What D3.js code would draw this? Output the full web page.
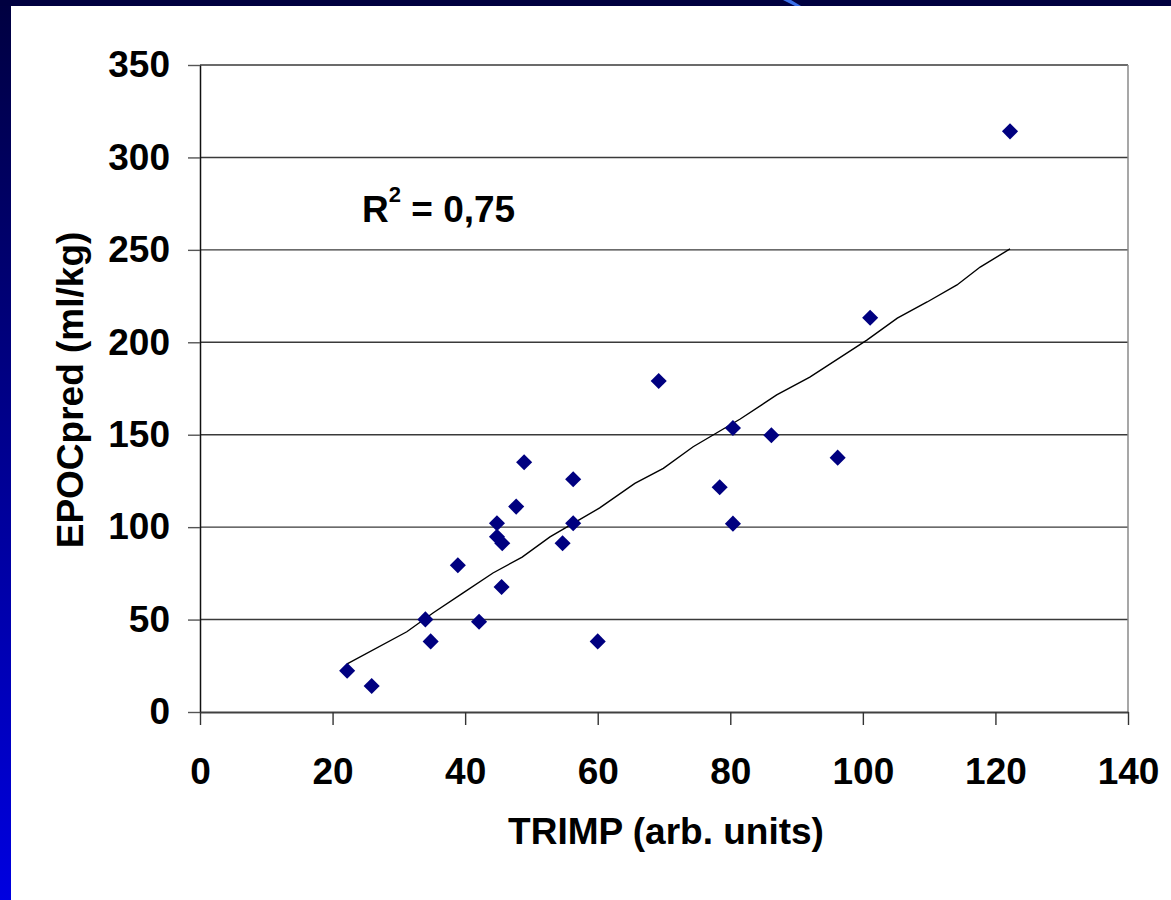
<!DOCTYPE html>
<html>
<head>
<meta charset="utf-8">
<script src="https://cdn.jsdelivr.net/npm/d3@7"></script>
<style>
  body { margin: 0; background: #fff; }
  svg { display: block; }
</style>
</head>
<body>
<div id="chart"></div>
<script>
// TRIMP vs EPOCpred scatter with trendline
var trimp = [22.2, 25.9, 34.0, 34.8, 38.9, 42.1, 44.8, 44.8, 45.6, 45.5, 47.7, 48.9,
             54.7, 56.3, 56.3, 60.0, 69.2, 78.4, 80.4, 80.4, 86.2, 96.2, 101.1, 122.2];
var epoc  = [22.3, 14.1, 50.1, 38.2, 79.4, 48.8, 94.8, 102.1, 91.3, 67.6, 111.1, 135.1,
             91.3, 125.9, 102.1, 38.2, 179.1, 121.6, 153.6, 101.9, 149.7, 137.6, 213.3, 314.1];

// trendline as drawn
var trendX = [22.2, 31.2, 35.2, 39.7, 44.2, 48.6, 52.8, 60.3, 65.6, 69.9, 74.4, 81.5,
              87.0, 92.0, 100.6, 105.2, 109.7, 114.2, 117.7, 122.2];
var trendY = [26.0, 43.4, 53.7, 64.4, 75.2, 83.8, 94.7, 110.4, 123.7, 131.8, 143.5, 158.5,
              171.5, 181.2, 201.2, 213.1, 221.8, 231.0, 240.7, 250.5];

var xTicks = [0, 20, 40, 60, 80, 100, 120, 140];
var yTicks = [0, 50, 100, 150, 200, 250, 300, 350];

var W = 1171, H = 900;
var pLeft = 200, pRight = 1128, pTop = 65, pBottom = 712;
var font = "'Liberation Sans', Arial, sans-serif";

var svg = d3.select("#chart")
  .append("svg")
  .attr("width", W)
  .attr("height", H);

// slide frame: dark band on top, gradient band on the left
var defs = svg.append("defs");
var grad = defs.append("linearGradient")
  .attr("id", "leftband")
  .attr("x1", 0).attr("y1", 0).attr("x2", 0).attr("y2", 1);
grad.append("stop").attr("offset", "0%").attr("stop-color", "#000040");
grad.append("stop").attr("offset", "100%").attr("stop-color", "#0000e0");

svg.append("rect")
  .attr("x", 0).attr("y", 0)
  .attr("width", 11).attr("height", H)
  .attr("fill", "url(#leftband)");
svg.append("rect")
  .attr("x", 0).attr("y", 0)
  .attr("width", W).attr("height", 6)
  .attr("fill", "#000040");
svg.append("polygon")
  .attr("points", "783,0 791,0 801,6 795,6")
  .attr("fill", "#3a6ee8");

var x = d3.scaleLinear().domain([0, 140]).range([pLeft, pRight]);
var y = d3.scaleLinear().domain([0, 350]).range([pBottom, pTop]);

// gridlines
svg.append("g")
  .selectAll("line")
  .data(yTicks.filter(function(d) { return d > 0; }))
  .enter()
  .append("line")
    .attr("x1", pLeft)
    .attr("x2", pRight)
    .attr("y1", function(d) { return y(d); })
    .attr("y2", function(d) { return y(d); })
    .attr("stroke", "#3a3a3a")
    .attr("stroke-width", 1.4);

// right border
svg.append("line")
  .attr("x1", pRight).attr("x2", pRight)
  .attr("y1", pTop).attr("y2", pBottom)
  .attr("stroke", "#8a8a8a")
  .attr("stroke-width", 1.5);

// axes
var yAxis = svg.append("g")
  .attr("transform", "translate(" + pLeft + ",0)")
  .call(d3.axisLeft(y).tickValues(yTicks).tickSize(12).tickPadding(18).tickSizeOuter(0));
var xAxis = svg.append("g")
  .attr("transform", "translate(0," + pBottom + ")")
  .call(d3.axisBottom(x).tickValues(xTicks).tickSize(13).tickPadding(33).tickSizeOuter(0));

yAxis.select(".domain").attr("stroke", "#111").attr("stroke-width", 1.5);
xAxis.select(".domain").attr("stroke", "#404040").attr("stroke-width", 2.2);
yAxis.selectAll(".tick line").attr("stroke", "#555").attr("stroke-width", 1.4);
xAxis.selectAll(".tick line").attr("stroke", "#333").attr("stroke-width", 1.4);

svg.selectAll(".tick text")
  .attr("font-family", font)
  .attr("font-weight", "bold")
  .attr("font-size", "37px")
  .attr("fill", "#000");

// trendline
var trend = trendX.map(function(d, i) { return [d, trendY[i]]; });
svg.append("path")
  .datum(trend)
  .attr("d", d3.line()
    .x(function(d) { return x(d[0]); })
    .y(function(d) { return y(d[1]); }))
  .attr("fill", "none")
  .attr("stroke", "#000")
  .attr("stroke-width", 1.4);

// points
var pts = trimp.map(function(d, i) { return [d, epoc[i]]; });
svg.selectAll("path.pt")
  .data(pts)
  .enter()
  .append("path")
    .attr("class", "pt")
    .attr("d", d3.symbol().type(d3.symbolDiamond2).size(165))
    .attr("transform", function(d) {
      return "translate(" + x(d[0]) + "," + y(d[1]) + ")";
    })
    .attr("fill", "#000080");

// R squared label
var r2 = svg.append("text")
  .attr("x", 362)
  .attr("y", 222)
  .attr("font-family", font)
  .attr("font-weight", "bold")
  .attr("font-size", "37px");
r2.append("tspan").text("R");
r2.append("tspan").attr("font-size", "22px").attr("dy", -20).text("2");
r2.append("tspan").attr("dy", 20).text(" = 0,75");

// axis titles
svg.append("text")
  .text("TRIMP (arb. units)")
  .attr("x", 666)
  .attr("y", 844)
  .attr("text-anchor", "middle")
  .attr("font-family", font)
  .attr("font-weight", "bold")
  .attr("font-size", "37px");

svg.append("text")
  .text("EPOCpred (ml/kg)")
  .attr("transform", "translate(83,390) rotate(-90)")
  .attr("text-anchor", "middle")
  .attr("font-family", font)
  .attr("font-weight", "bold")
  .attr("font-size", "37px");
</script>
</body>
</html>
